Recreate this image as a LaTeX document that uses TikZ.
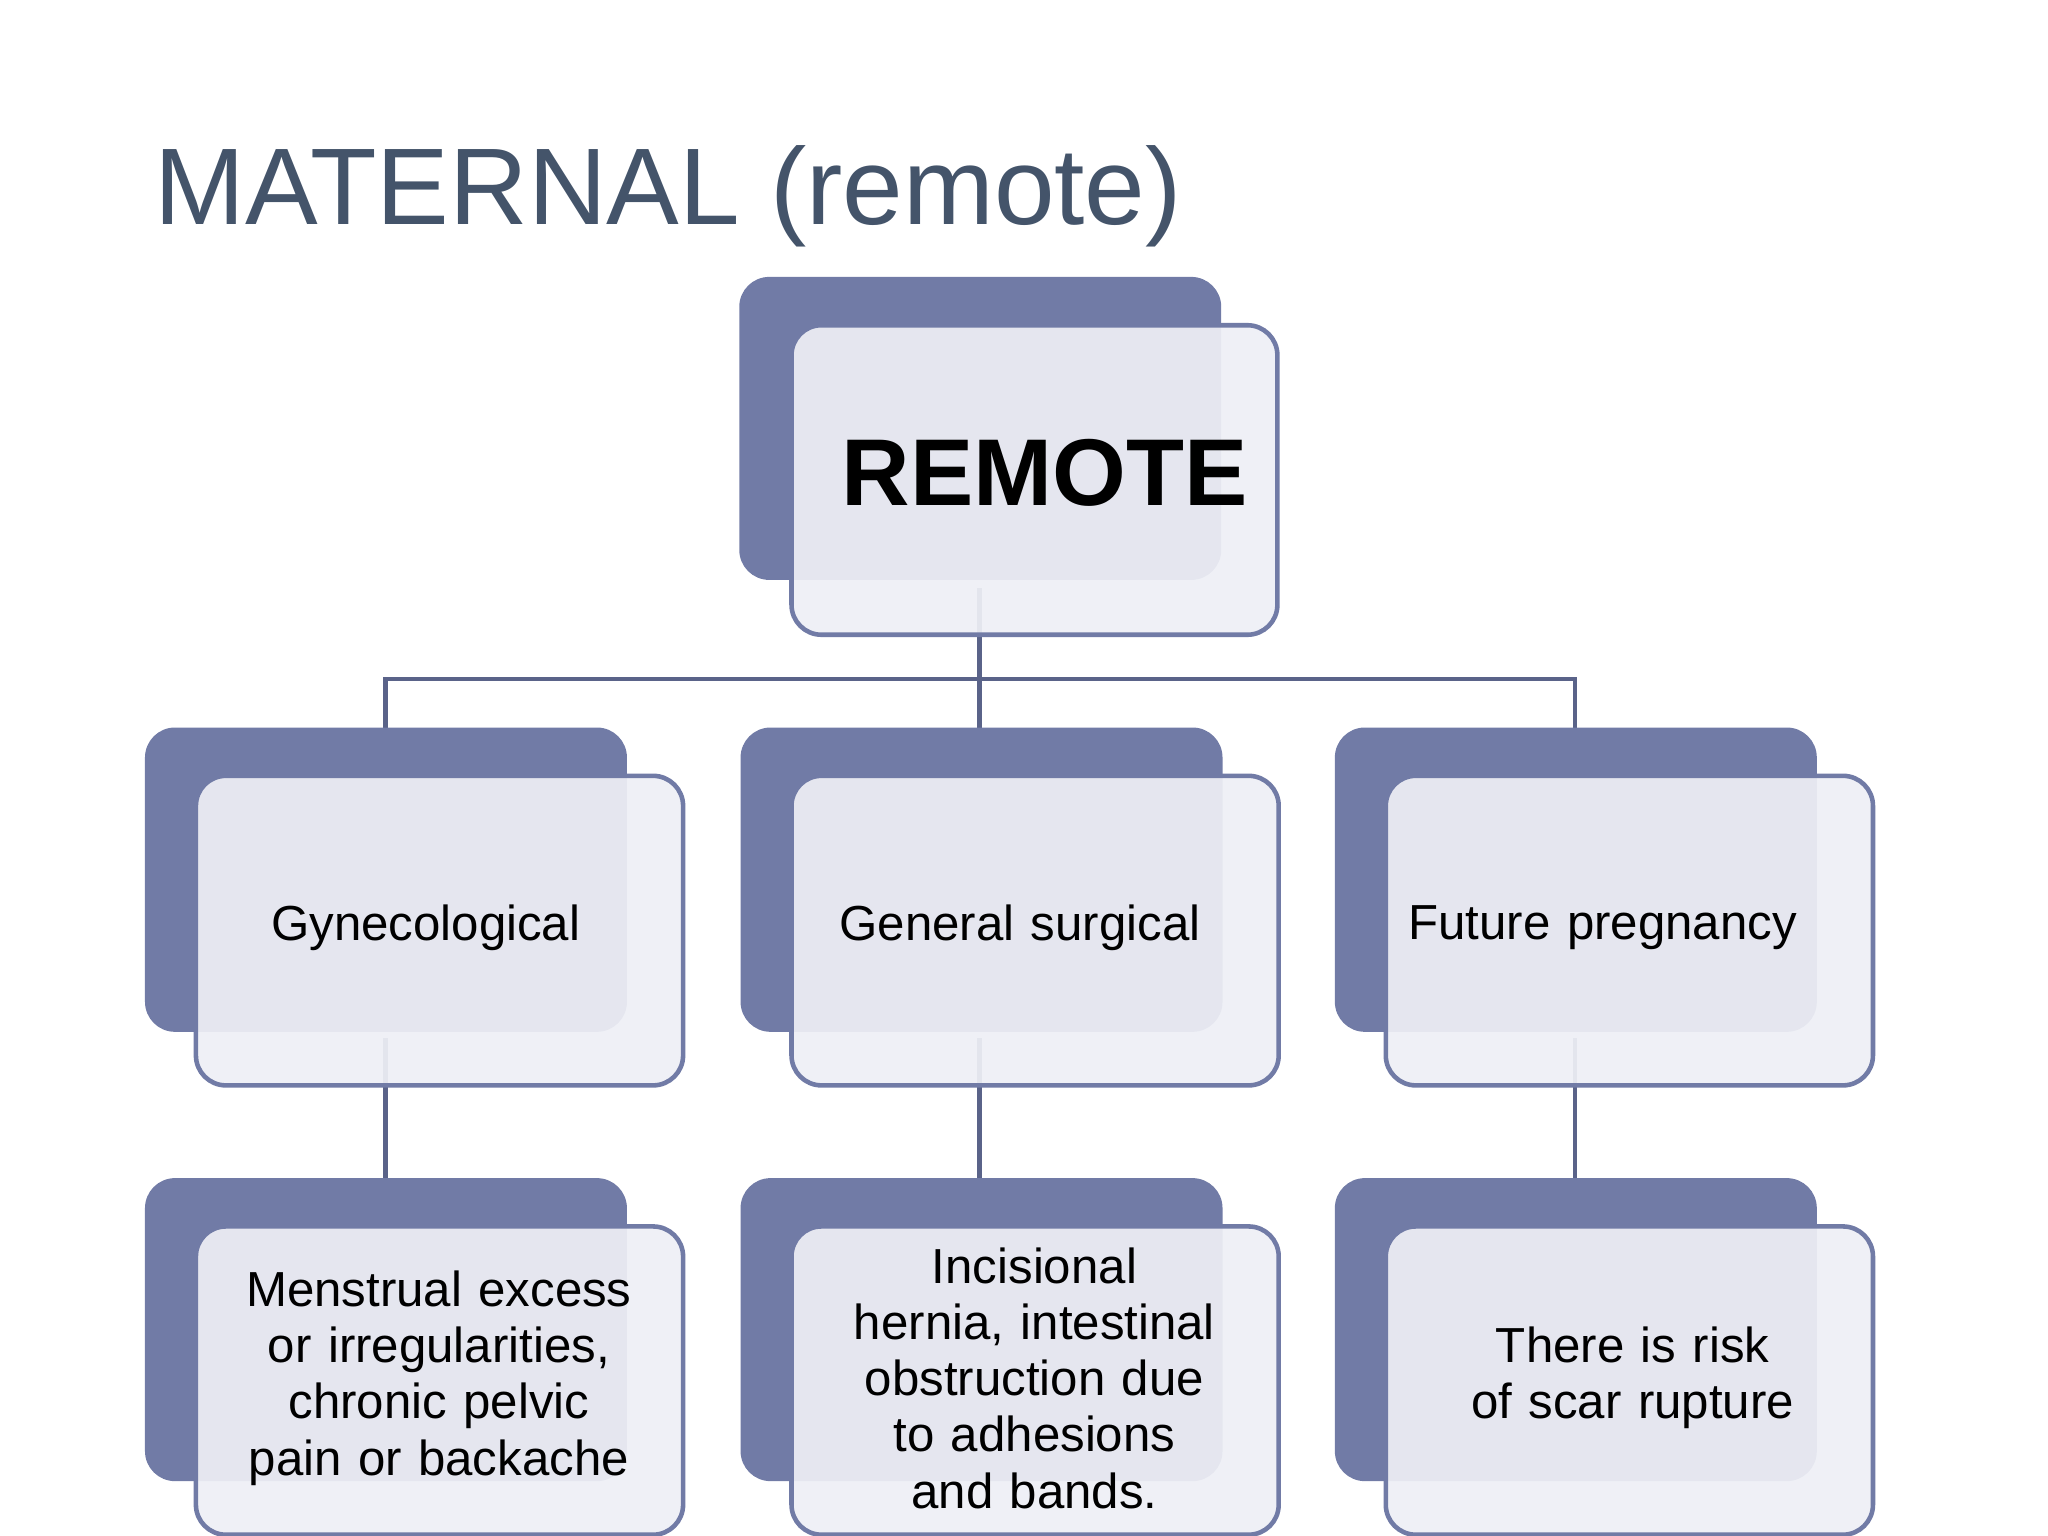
\documentclass[tikz,border=0pt]{standalone}
\usepackage{fontspec}
\setmainfont{Liberation Sans}
\definecolor{dark}{HTML}{717BA6}
\definecolor{light}{HTML}{EEEFF5}
\definecolor{titlec}{HTML}{44546A}
\definecolor{linec}{HTML}{5A6389}
\begin{document}
\begin{tikzpicture}[x=0.0130612cm,y=-0.0130612cm,
  back/.style={fill=dark,rounded corners=0.3cm},
  front/.style={fill=light,fill opacity=0.93,draw=dark,line width=1.3pt,rounded corners=0.3cm},
  conn/.style={draw=linec,line width=1.3pt},
  txt/.style={align=center,font=\fontsize{14}{16}\selectfont,text width=4.2cm}]
\useasboundingbox (0,0) rectangle (1568,1176);
\node[anchor=base west,text=titlec,font=\fontsize{31}{36}\selectfont,inner sep=0] (title) at (118,172) {MATERNAL (remote)};
% connectors
\coordinate (t) at (750,450);
\coordinate (j) at (750,520);
\coordinate (a1) at (295,557); \coordinate (a2) at (750,557); \coordinate (a3) at (1206,557);
\coordinate (b1) at (295,795); \coordinate (b2) at (750,795); \coordinate (b3) at (1206,795);
\coordinate (c1) at (295,902); \coordinate (c2) at (750,902); \coordinate (c3) at (1206,902);
\draw[conn] (t) -- (j) (a1) |- (j) -| (a3) (j) -- (a2);
\draw[conn] (b1) -- (c1) (b2) -- (c2) (b3) -- (c3);
% boxes
\foreach \x in {0,456,911}{
  \fill[back] (111+\x,557) rectangle (480+\x,790);
  \fill[back] (111+\x,902) rectangle (480+\x,1134);
}
\fill[back] (566,212) rectangle (935,444);
\foreach \x in {0,456,911}{
  \path[front] (150+\x,594) rectangle (523+\x,831);
  \path[front] (150+\x,939) rectangle (523+\x,1175);
}
\path[front] (606,249) rectangle (978,486);
\node[font=\fontsize{27}{30}\selectfont\bfseries] (remote) at (800,362) {REMOTE};
\node[txt] (g) at (326,710) {Gynecological};
\node[txt] (s) at (781,710) {General surgical};
\node[txt] (f) at (1227,710) {Future pregnancy};
\node[txt] (g2) at (336,1055) {Menstrual excess or irregularities, chronic pelvic pain or backache};
\node[txt,text width=4cm] (s2) at (792,1055) {Incisional hernia, intestinal obstruction due to adhesions and bands.};
\node[txt] (f2) at (1250,1055) {There is risk of scar rupture};
\end{tikzpicture}
\end{document}
